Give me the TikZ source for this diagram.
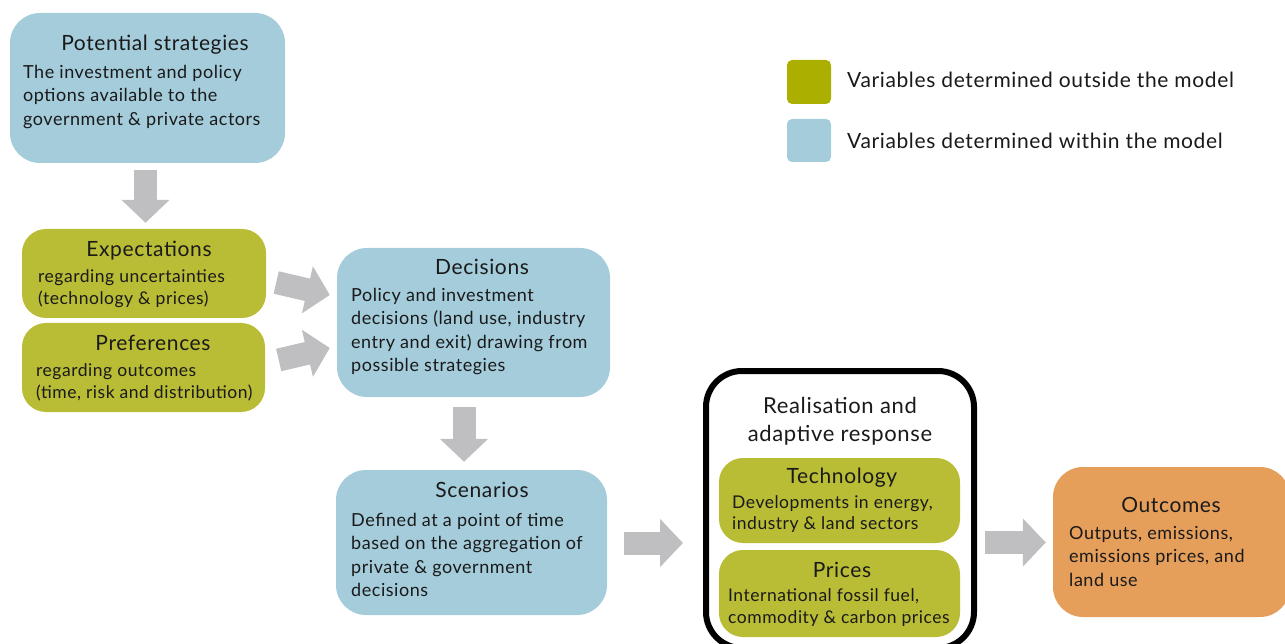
\documentclass[tikz,border=0pt]{standalone}
\usepackage{fontspec}
\setmainfont{Lato}[LetterSpace=3]
\usetikzlibrary{arrows.meta,calc}
\definecolor{boxblue}{HTML}{A4CCDB}
\definecolor{boxgreen}{HTML}{B9BC35}
\definecolor{leggreen}{HTML}{ABAF00}
\definecolor{boxorange}{HTML}{E59F5B}
\definecolor{arrowgray}{HTML}{BFBFC1}
\definecolor{txt}{HTML}{1A1A1A}
\begin{document}
\begin{tikzpicture}[x=1pt,y=-1pt,
  bigbox/.style={rectangle, rounded corners=30pt, inner sep=0pt},
  smallbox/.style={rectangle, rounded corners=24pt, inner sep=0pt},
  bluefill/.style={fill=boxblue},
  greenfill/.style={fill=boxgreen},
  titletext/.style={inner sep=0pt, text=txt, font=\fontsize{21}{24}\selectfont},
  bodytext/.style={inner sep=0pt, text=txt, align=left, anchor=west, font=\fontsize{18}{23.5}\selectfont},
  smallbody/.style={inner sep=0pt, text=txt, align=left, anchor=west, font=\fontsize{17.5}{21.5}\selectfont},
  legtext/.style={inner sep=0pt, text=txt, anchor=west, font=\fontsize{21}{24}\selectfont},
  barrow/.style={draw=arrowgray, line width=23pt, line cap=butt,
    -{Triangle[length=23pt,width=47pt]}}
]
\useasboundingbox (0,0) rectangle (1285,644);
\clip (0,0) rectangle (1285,644);

% boxes
\node[bigbox, bluefill, minimum width=275, minimum height=150] (ps) at (147.5,88) {};
\node[smallbox, greenfill, minimum width=244, minimum height=89] (exp) at (144,273.5) {};
\node[smallbox, greenfill, minimum width=243, minimum height=89] (pref) at (143.5,367.5) {};
\node[bigbox, bluefill, minimum width=273, minimum height=149] (dec) at (473.5,322.5) {};
\node[bigbox, bluefill, minimum width=271, minimum height=145] (scen) at (471.5,542.5) {};
\node[rectangle, rounded corners=36pt, draw=black, line width=6pt, fill=white,
      minimum width=268, minimum height=277] (real) at (840,509.5) {};
\node[smallbox, greenfill, minimum width=241, minimum height=85] (tech) at (839.5,500.5) {};
\node[smallbox, greenfill, minimum width=241, minimum height=87] (prices) at (839.5,593.5) {};
\node[bigbox, fill=boxorange, minimum width=237, minimum height=150] (out) at (1171.5,542) {};

% legend
\node[rectangle, rounded corners=5pt, fill=leggreen, minimum width=44, minimum height=44] (leg1) at (809,82) {};
\node[rectangle, rounded corners=5pt, fill=boxblue, minimum width=44, minimum height=43] (leg2) at (809,140.5) {};
\node[legtext] (leg1t) at (847,80) {Variables determined outside the model};
\node[legtext] (leg2t) at (847,141) {Variables determined within the model};

% texts
\node[titletext] (pst) at (155,45) {Potential strategies};
\node[bodytext] (psb) at (23,97) {The investment and policy\\options available to the\\government \& private actors};

\node[titletext] (expt) at (149,251) {Expectations};
\node[smallbody] (expb) at (38,288.5) {regarding uncertainties\\(technology \& prices)};

\node[titletext] (preft) at (153,343) {Preferences};
\node[smallbody] (prefb) at (36,382.5) {regarding outcomes\\(time, risk and distribution)};

\node[titletext] (dect) at (482,267) {Decisions};
\node[bodytext] (decb) at (351,331.5) {Policy and investment\\decisions (land use, industry\\entry and exit) drawing from\\possible strategies};

\node[titletext] (scent) at (482,490) {Scenarios};
\node[bodytext] (scenb) at (351,555) {Defined at a point of time\\based on the aggregation of\\private \& government\\decisions};

\node[inner sep=0pt, text=txt, align=center, font=\fontsize{22}{28}\selectfont] (realt) at (840,421) {Realisation and\\adaptive response};

\node[titletext] (techt) at (842,478) {Technology};
\node[smallbody] (techb) at (732,514) {Developments in energy,\\industry \& land sectors};

\node[titletext] (pricest) at (842,570) {Prices};
\node[smallbody] (pricesb) at (728,607.5) {International fossil fuel,\\commodity \& carbon prices};

\node[titletext] (outt) at (1171,505) {Outcomes};
\node[bodytext] (outb) at (1069,556.5) {Outputs, emissions,\\emissions prices, and\\land use};

% arrows
\draw[barrow] ($(ps.south)+(-2,7)$) -- ($(exp.north)+(1.5,-6)$);
\draw[barrow] ($(exp.east)+(10,9)$) -- ($(dec.west)+(-7,-27.5)$);
\draw[barrow] ($(pref.east)+(13.5,-7.5)$) -- ($(dec.west)+(-7,25.5)$);
\draw[barrow] ($(dec.south)+(-9.5,10)$) -- ($(scen.north)+(-7.5,-8)$);
\draw[barrow] ($(scen.east)+(17,0.5)$) -- ($(real.west)+(-20,33.5)$);
\draw[barrow] ($(real.east)+(8,33)$) -- ($(out.west)+(-7,0.5)$);
\end{tikzpicture}
\end{document}
